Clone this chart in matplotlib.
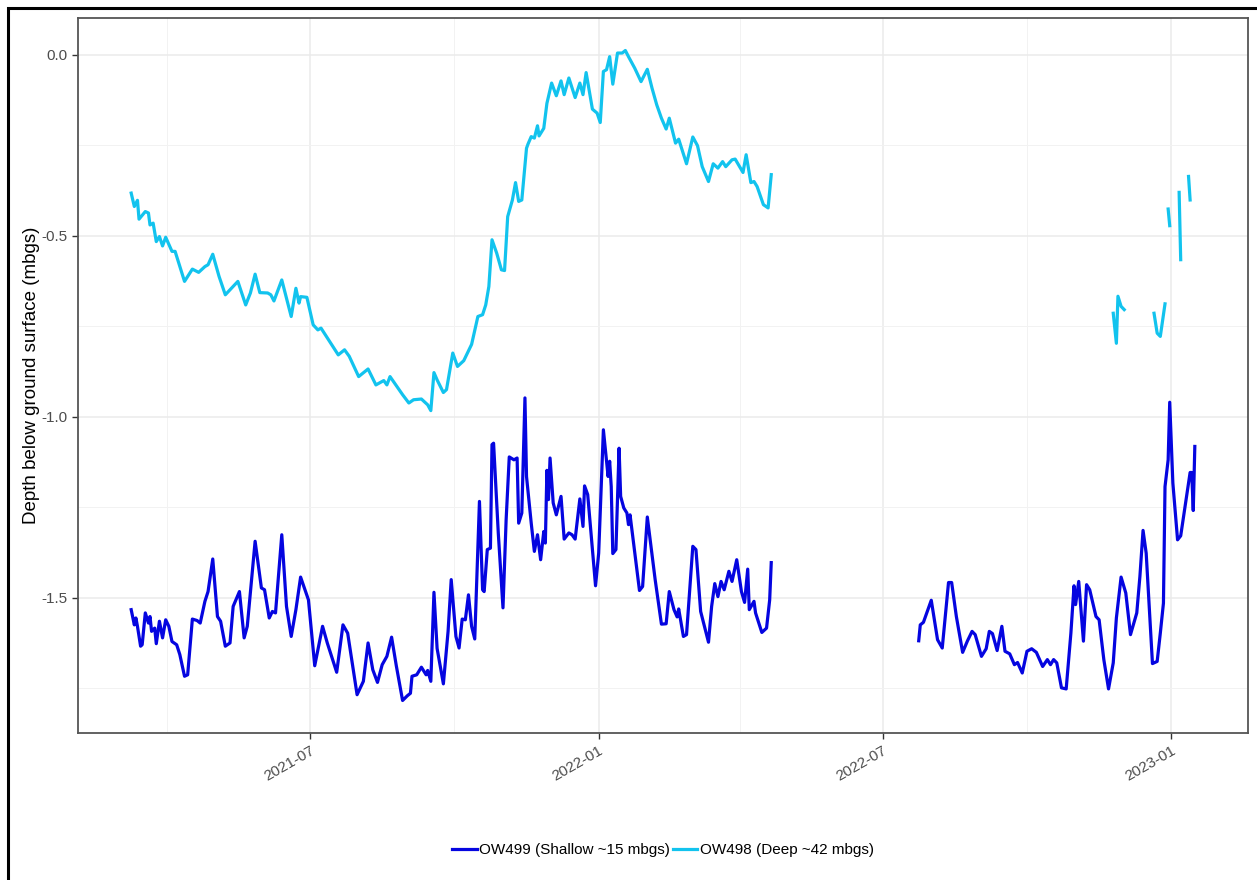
import matplotlib
matplotlib.use("Agg")
import matplotlib.pyplot as plt
import matplotlib.dates as mdates
from matplotlib.patches import Rectangle
import numpy as np
import pandas as pd

plt.rcParams['font.family'] = ['Liberation Sans', 'DejaVu Sans']
plt.rcParams['axes.unicode_minus'] = False

# OW498 deep well (gaps as NaN)
deep_dates = [
    "2021-03-09", "2021-03-11", "2021-03-13", "2021-03-14", "2021-03-18", "2021-03-20",
    "2021-03-21", "2021-03-23", "2021-03-25", "2021-03-27", "2021-03-29", "2021-03-31",
    "2021-04-04", "2021-04-06", "2021-04-12", "2021-04-17", "2021-04-21", "2021-04-25",
    "2021-04-27", "2021-04-30", "2021-05-04", "2021-05-08", "2021-05-16", "2021-05-21",
    "2021-05-24", "2021-05-27", "2021-05-30", "2021-06-04", "2021-06-06", "2021-06-08",
    "2021-06-13", "2021-06-19", "2021-06-22", "2021-06-24", "2021-06-25", "2021-06-29",
    "2021-07-03", "2021-07-06", "2021-07-08", "2021-07-19", "2021-07-23", "2021-07-26",
    "2021-08-01", "2021-08-07", "2021-08-12", "2021-08-17", "2021-08-19", "2021-08-21",
    "2021-08-29", "2021-09-02", "2021-09-05", "2021-09-10", "2021-09-14", "2021-09-16",
    "2021-09-18", "2021-09-20", "2021-09-24", "2021-09-26", "2021-09-30", "2021-10-03",
    "2021-10-07", "2021-10-12", "2021-10-16", "2021-10-19", "2021-10-21", "2021-10-23",
    "2021-10-25", "2021-10-28", "2021-10-31", "2021-11-02", "2021-11-04", "2021-11-07",
    "2021-11-09", "2021-11-11", "2021-11-13", "2021-11-16", "2021-11-17", "2021-11-19",
    "2021-11-21", "2021-11-23", "2021-11-24", "2021-11-27", "2021-11-29", "2021-12-02",
    "2021-12-05", "2021-12-08", "2021-12-10", "2021-12-13", "2021-12-17", "2021-12-20",
    "2021-12-22", "2021-12-24", "2021-12-28", "2021-12-31", "2022-01-02", "2022-01-04",
    "2022-01-06", "2022-01-08", "2022-01-10", "2022-01-13", "2022-01-16", "2022-01-18",
    "2022-01-20", "2022-01-24", "2022-01-28", "2022-02-01", "2022-02-04", "2022-02-07",
    "2022-02-10", "2022-02-13", "2022-02-15", "2022-02-19", "2022-02-21", "2022-02-26",
    "2022-03-02", "2022-03-05", "2022-03-08", "2022-03-12", "2022-03-15", "2022-03-18",
    "2022-03-21", "2022-03-23", "2022-03-27", "2022-03-29", "2022-04-03", "2022-04-05",
    "2022-04-08", "2022-04-10", "2022-04-12", "2022-04-16", "2022-04-19", "2022-04-21",
    "2022-07-01",
    "2022-11-25", "2022-11-27", "2022-11-28", "2022-11-30", "2022-12-02",
    "2022-12-10",
    "2022-12-21", "2022-12-23", "2022-12-25", "2022-12-28",
    "2022-12-29",
    "2022-12-30", "2022-12-31",
    "2023-01-03",
    "2023-01-06", "2023-01-07",
    "2023-01-10",
    "2023-01-12", "2023-01-13",
]
deep_values = [
    -0.382, -0.419, -0.402, -0.454, -0.433, -0.437,
    -0.470, -0.465, -0.516, -0.502, -0.528, -0.504,
    -0.543, -0.543, -0.626, -0.592, -0.601, -0.585,
    -0.580, -0.551, -0.612, -0.663, -0.626, -0.691,
    -0.658, -0.606, -0.657, -0.658, -0.663, -0.680,
    -0.622, -0.723, -0.645, -0.686, -0.668, -0.670,
    -0.746, -0.760, -0.755, -0.829, -0.815, -0.833,
    -0.889, -0.868, -0.912, -0.900, -0.912, -0.889,
    -0.939, -0.962, -0.953, -0.951, -0.967, -0.983,
    -0.878, -0.898, -0.933, -0.925, -0.824, -0.861,
    -0.845, -0.800, -0.723, -0.718, -0.691, -0.640,
    -0.511, -0.548, -0.594, -0.596, -0.447, -0.401,
    -0.353, -0.405, -0.401, -0.258, -0.246, -0.226,
    -0.230, -0.196, -0.224, -0.203, -0.134, -0.078,
    -0.113, -0.072, -0.110, -0.064, -0.118, -0.078,
    -0.110, -0.049, -0.150, -0.161, -0.187, -0.046,
    -0.041, -0.005, -0.081, 0.005, 0.005, 0.012,
    -0.005, -0.037, -0.074, -0.040, -0.092, -0.138,
    -0.175, -0.205, -0.175, -0.244, -0.233, -0.301,
    -0.227, -0.251, -0.309, -0.350, -0.301, -0.313,
    -0.295, -0.309, -0.290, -0.288, -0.325, -0.276,
    -0.353, -0.350, -0.364, -0.414, -0.423, -0.331,
    np.nan,
    -0.714, -0.797, -0.667, -0.695, -0.704,
    np.nan,
    -0.714, -0.769, -0.778, -0.688,
    np.nan,
    -0.426, -0.472,
    np.nan,
    -0.380, -0.566,
    np.nan,
    -0.336, -0.401,
]

# OW499 shallow well
shallow_dates = [
    "2021-03-09", "2021-03-11", "2021-03-12", "2021-03-13", "2021-03-15", "2021-03-16",
    "2021-03-18", "2021-03-20", "2021-03-21", "2021-03-22", "2021-03-24", "2021-03-25",
    "2021-03-27", "2021-03-29", "2021-03-31", "2021-04-02", "2021-04-04", "2021-04-07",
    "2021-04-09", "2021-04-12", "2021-04-14", "2021-04-17", "2021-04-20", "2021-04-22",
    "2021-04-25", "2021-04-27", "2021-04-30", "2021-05-03", "2021-05-05", "2021-05-08",
    "2021-05-11", "2021-05-13", "2021-05-17", "2021-05-20", "2021-05-22", "2021-05-27",
    "2021-05-31", "2021-06-02", "2021-06-05", "2021-06-07", "2021-06-09", "2021-06-13",
    "2021-06-16", "2021-06-19", "2021-06-22", "2021-06-25", "2021-06-30", "2021-07-04",
    "2021-07-09", "2021-07-12", "2021-07-18", "2021-07-22", "2021-07-25", "2021-07-31",
    "2021-08-04", "2021-08-07", "2021-08-10", "2021-08-13", "2021-08-16", "2021-08-19",
    "2021-08-22", "2021-08-25", "2021-08-29", "2021-09-01", "2021-09-03", "2021-09-04",
    "2021-09-07", "2021-09-10", "2021-09-13", "2021-09-14", "2021-09-16", "2021-09-18",
    "2021-09-20", "2021-09-24", "2021-09-27", "2021-09-29", "2021-10-02", "2021-10-04",
    "2021-10-06", "2021-10-08", "2021-10-10", "2021-10-12", "2021-10-14", "2021-10-17",
    "2021-10-19", "2021-10-20", "2021-10-22", "2021-10-24", "2021-10-25", "2021-10-26",
    "2021-10-29", "2021-11-01", "2021-11-03", "2021-11-05", "2021-11-08", "2021-11-10",
    "2021-11-11", "2021-11-13", "2021-11-15", "2021-11-16", "2021-11-19", "2021-11-21",
    "2021-11-23", "2021-11-25", "2021-11-27", "2021-11-28", "2021-11-29", "2021-11-30",
    "2021-12-01", "2021-12-03", "2021-12-05", "2021-12-08", "2021-12-10", "2021-12-13",
    "2021-12-15", "2021-12-17", "2021-12-20", "2021-12-22", "2021-12-23", "2021-12-25",
    "2021-12-30", "2022-01-01", "2022-01-04", "2022-01-07", "2022-01-08", "2022-01-09",
    "2022-01-10", "2022-01-12", "2022-01-14", "2022-01-15", "2022-01-17", "2022-01-19",
    "2022-01-20", "2022-01-21", "2022-01-27", "2022-01-29", "2022-02-01", "2022-02-06",
    "2022-02-10", "2022-02-13", "2022-02-15", "2022-02-18", "2022-02-20", "2022-02-21",
    "2022-02-24", "2022-02-26", "2022-03-02", "2022-03-04", "2022-03-07", "2022-03-12",
    "2022-03-14", "2022-03-16", "2022-03-18", "2022-03-20", "2022-03-22", "2022-03-25",
    "2022-03-27", "2022-03-30", "2022-04-02", "2022-04-04", "2022-04-06", "2022-04-07",
    "2022-04-10", "2022-04-11", "2022-04-15", "2022-04-18", "2022-04-20", "2022-04-21",
    "2022-06-01",
    "2022-07-24", "2022-07-25", "2022-07-27", "2022-08-01", "2022-08-05", "2022-08-08",
    "2022-08-12", "2022-08-14", "2022-08-17", "2022-08-21", "2022-08-24", "2022-08-27",
    "2022-08-29", "2022-09-02", "2022-09-05", "2022-09-07", "2022-09-09", "2022-09-12",
    "2022-09-15", "2022-09-17", "2022-09-20", "2022-09-23", "2022-09-25", "2022-09-28",
    "2022-10-01", "2022-10-04", "2022-10-07", "2022-10-11", "2022-10-14", "2022-10-16",
    "2022-10-18", "2022-10-20", "2022-10-23", "2022-10-26", "2022-10-29", "2022-10-31",
    "2022-11-01", "2022-11-03", "2022-11-06", "2022-11-08", "2022-11-10", "2022-11-14",
    "2022-11-16", "2022-11-19", "2022-11-22", "2022-11-25", "2022-11-27", "2022-11-30",
    "2022-12-03", "2022-12-06", "2022-12-10", "2022-12-12", "2022-12-14", "2022-12-16",
    "2022-12-20", "2022-12-23", "2022-12-25", "2022-12-27", "2022-12-28", "2022-12-30",
    "2022-12-31", "2023-01-02", "2023-01-05", "2023-01-07", "2023-01-13", "2023-01-14",
    "2023-01-15", "2023-01-16",
]
shallow_values = [
    -1.533, -1.575, -1.556, -1.579, -1.634, -1.630,
    -1.542, -1.570, -1.552, -1.593, -1.584, -1.627,
    -1.565, -1.611, -1.561, -1.579, -1.621, -1.630,
    -1.657, -1.717, -1.713, -1.559, -1.563, -1.570,
    -1.510, -1.483, -1.393, -1.552, -1.565, -1.634,
    -1.625, -1.524, -1.483, -1.611, -1.579, -1.344,
    -1.473, -1.478, -1.556, -1.538, -1.542, -1.326,
    -1.524, -1.607, -1.533, -1.443, -1.506, -1.688,
    -1.579, -1.625, -1.706, -1.575, -1.598, -1.768,
    -1.731, -1.625, -1.699, -1.734, -1.685, -1.662,
    -1.609, -1.688, -1.784, -1.771, -1.764, -1.717,
    -1.713, -1.692, -1.713, -1.701, -1.731, -1.485,
    -1.640, -1.738, -1.593, -1.450, -1.607, -1.639,
    -1.559, -1.561, -1.492, -1.579, -1.614, -1.234,
    -1.478, -1.483, -1.367, -1.363, -1.077, -1.073,
    -1.321, -1.528, -1.285, -1.111, -1.119, -1.114,
    -1.294, -1.266, -0.948, -1.165, -1.294, -1.372,
    -1.326, -1.395, -1.317, -1.349, -1.148, -1.229,
    -1.114, -1.238, -1.271, -1.220, -1.338, -1.321,
    -1.326, -1.338, -1.227, -1.303, -1.191, -1.215,
    -1.467, -1.377, -1.036, -1.165, -1.123, -1.193,
    -1.378, -1.367, -1.087, -1.220, -1.252, -1.266,
    -1.298, -1.271, -1.480, -1.469, -1.277, -1.450,
    -1.573, -1.572, -1.483, -1.533, -1.553, -1.531,
    -1.607, -1.602, -1.358, -1.367, -1.538, -1.623,
    -1.524, -1.461, -1.497, -1.455, -1.478, -1.427,
    -1.455, -1.395, -1.483, -1.513, -1.421, -1.533,
    -1.510, -1.542, -1.596, -1.584, -1.506, -1.403,
    np.nan,
    -1.619, -1.575, -1.568, -1.507, -1.616, -1.639,
    -1.458, -1.458, -1.552, -1.651, -1.620, -1.593,
    -1.602, -1.662, -1.641, -1.593, -1.599, -1.646,
    -1.579, -1.648, -1.655, -1.685, -1.679, -1.708,
    -1.648, -1.641, -1.651, -1.690, -1.671, -1.685,
    -1.671, -1.680, -1.749, -1.752, -1.598, -1.467,
    -1.519, -1.455, -1.620, -1.464, -1.478, -1.552,
    -1.561, -1.671, -1.752, -1.680, -1.556, -1.443,
    -1.487, -1.602, -1.542, -1.441, -1.314, -1.377,
    -1.682, -1.676, -1.598, -1.515, -1.193, -1.119,
    -0.960, -1.183, -1.340, -1.329, -1.154, -1.154,
    -1.259, -1.082,
]

shallow_label = "OW499 (Shallow ~15 mbgs)"
deep_label = "OW498 (Deep ~42 mbgs)"
shallow_color = "#0505E0"
deep_color = "#12C3EE"

fig = plt.figure(figsize=(12.57, 8.8), dpi=100)
ax = fig.add_axes([78 / 1257, 1 - 733 / 880, (1248 - 78) / 1257, (733 - 18) / 880])

ax.plot(pd.to_datetime(shallow_dates), shallow_values, color=shallow_color, lw=2.3,
        label=shallow_label, solid_joinstyle='round')
ax.plot(pd.to_datetime(deep_dates), deep_values, color=deep_color, lw=2.3,
        label=deep_label, solid_joinstyle='round')
ax.margins(x=0.05, y=0.05)

ax.xaxis.set_major_locator(mdates.MonthLocator(bymonth=[1, 7]))
ax.xaxis.set_minor_locator(mdates.MonthLocator(bymonth=[4, 10]))
ax.xaxis.set_major_formatter(mdates.DateFormatter("%Y-%m"))
ax.set_yticks([0.0, -0.5, -1.0, -1.5])
ax.set_yticks([-0.25, -0.75, -1.25, -1.75], minor=True)
ax.set_yticklabels(["0.0", "-0.5", "-1.0", "-1.5"])

ax.grid(which='major', color='#EBEBEB', lw=1.1)
ax.grid(which='minor', color='#F2F2F2', lw=0.7)
ax.set_axisbelow(True)
for s in ax.spines.values():
    s.set_color('#555555')
    s.set_linewidth(1.3)

ax.tick_params(which='major', length=4.5, width=1.0, color='#333333',
               labelcolor='#4D4D4D', labelsize=11, pad=3)
ax.tick_params(which='minor', length=0)
plt.setp(ax.get_xticklabels(), rotation=30, ha='right', rotation_mode='anchor')

ax.set_ylabel("Depth below ground surface (mbgs)", fontsize=13.5, labelpad=1)

fig.legend(loc='center', bbox_to_anchor=(663 / 1257, 1 - 850 / 880), ncol=2,
           frameon=False, fontsize=11, handlelength=1.6, handletextpad=0.15,
           columnspacing=0.2)

# outer frame of the screenshot
fig.add_artist(Rectangle((8 / 1257, -0.2), 1.5, 1.2 - 8 / 880, transform=fig.transFigure,
                         fill=False, edgecolor='black', lw=2.2))

fig.savefig("out.png", dpi=100)
